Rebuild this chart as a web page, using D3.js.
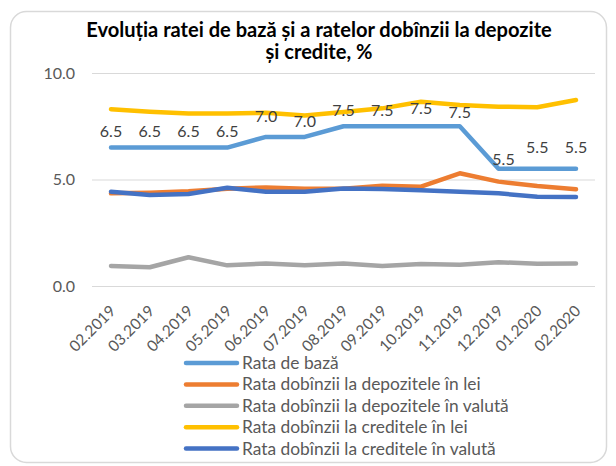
<!DOCTYPE html>
<html><head><meta charset="utf-8">
<script src="https://cdn.jsdelivr.net/npm/d3@7"></script>
<style>
html,body{margin:0;padding:0;background:#fff;}
svg{display:block;font-family:Lato,"Open Sans",sans-serif;}
</style></head>
<body><svg id="c" width="616" height="466"></svg>
<script>
const months = ["02.2019","03.2019","04.2019","05.2019","06.2019","07.2019","08.2019","09.2019","10.2019","11.2019","12.2019","01.2020","02.2020"];
const rataBaza = [6.5,6.5,6.5,6.5,7.0,7.0,7.5,7.5,7.5,7.5,5.5,5.5,5.5];
const depozLei = [4.35,4.38,4.45,4.57,4.63,4.57,4.57,4.71,4.66,5.29,4.9,4.69,4.54];
const depozValuta = [0.94,0.88,1.35,0.97,1.06,0.97,1.06,0.94,1.03,1.0,1.12,1.04,1.06];
const credLei = [8.3,8.18,8.1,8.1,8.13,8.01,8.17,8.34,8.65,8.5,8.42,8.39,8.73];
const credValuta = [4.43,4.27,4.32,4.61,4.43,4.43,4.58,4.55,4.5,4.43,4.35,4.19,4.18];
const yTicks = [0,5,10];
const seriesNames = ["Rata de bază","Rata dobînzii la depozitele în lei","Rata dobînzii la depozitele în valută","Rata dobînzii la creditele în lei","Rata dobînzii la creditele în valută"];
const titleLines = ["Evoluția ratei de bază și a ratelor dobînzii la depozite","și credite, %"];

const colors = ["#5B9BD5","#ED7D31","#A5A5A5","#FFC000","#4472C4"];
// label vertical nudges (styling only)
const labelDy = [-11,-11,-11,-11,-15,-10,-10,-10,-12,-8,-4,-16,-16];
const labelDx = [0,0,0,0,0,0,0,0,0,0,5,0,0];

const svg = d3.select("#c");
svg.append("rect").attr("x",10.5).attr("y",11.5).attr("width",596).attr("height",451)
  .attr("rx",16).attr("fill","#fff").attr("stroke","#d9d9d9").attr("stroke-width",1.5);

const x = d3.scalePoint().domain(months).range([111,576]);
const y = d3.scaleLinear().domain([0,10]).range([286,73]);

// fit a text element to a target width by adjusting font-size
function fitWidth(sel, target){
  const node = sel.node();
  const fs = parseFloat(sel.attr("font-size"));
  const w = node.getComputedTextLength();
  if (w > 0) sel.attr("font-size", (fs*target/w).toFixed(2));
  return fs*target/w;
}

// title
const tt = svg.append("g");
const t1 = tt.append("text").attr("x",319).attr("y",37).attr("text-anchor","middle")
    .attr("font-size",17).attr("font-weight","bold").attr("fill","#000").text(titleLines[0]);
const tfs = fitWidth(t1, 466);
tt.append("text").attr("x",319).attr("y",59).attr("text-anchor","middle")
    .attr("font-size",tfs.toFixed(2)).attr("font-weight","bold").attr("fill","#000").text(titleLines[1]);

// grid
const grid = svg.append("g");
grid.selectAll("line").data(yTicks).join("line")
  .attr("x1",92).attr("x2",595).attr("y1",d=>y(d)+0.5).attr("y2",d=>y(d)+0.5)
  .attr("stroke","#d9d9d9").attr("stroke-width",1);

// y axis
const yAxis = d3.axisLeft(y).tickValues(yTicks).tickFormat(d3.format(".1f")).tickSize(0).tickPadding(0);
const ya = svg.append("g").attr("transform","translate(75,0)").call(yAxis);
ya.select(".domain").remove();
ya.selectAll("text").attr("font-size",16).attr("fill","#595959").attr("font-family","Lato,'Open Sans',sans-serif");

// x axis
const xAxis = d3.axisBottom(x).tickSize(0).tickPadding(0);
const xa = svg.append("g").attr("transform","translate(0,300)").call(xAxis);
xa.select(".domain").remove();
xa.selectAll("text").attr("font-size",15.5).attr("fill","#595959")
  .attr("font-family","Lato,'Open Sans',sans-serif")
  .attr("text-anchor","end").attr("dy",0).attr("y",0)
  .attr("transform","translate(5,12) rotate(-45)");

// lines
const allSeries = [rataBaza,depozLei,depozValuta,credLei,credValuta];
const line = d3.line().x((d,i)=>x(months[i])).y(d=>y(d));
allSeries.forEach((s,k)=>{
  svg.append("path").datum(s).attr("d",line).attr("fill","none")
    .attr("stroke",colors[k]).attr("stroke-width",4.5)
    .attr("stroke-linejoin","round").attr("stroke-linecap","round");
});

// data labels for base rate
svg.append("g").selectAll("text").data(rataBaza).join("text")
  .attr("x",(d,i)=>x(months[i])+labelDx[i]).attr("y",(d,i)=>y(d)+labelDy[i])
  .attr("text-anchor","middle").attr("font-size",16).attr("fill","#404040")
  .text(d=>d3.format(".1f")(d));

// legend
const lg = svg.append("g");
const legTexts = [];
seriesNames.forEach((n,i)=>{
  const yy = 363 + i*21.4;
  lg.append("line").attr("x1",186).attr("x2",237).attr("y1",yy).attr("y2",yy)
    .attr("stroke",colors[i]).attr("stroke-width",4.5).attr("stroke-linecap","round");
  legTexts.push(lg.append("text").attr("x",242).attr("y",yy).attr("dy","0.35em")
    .attr("font-size",15).attr("fill","#595959").text(n));
});
const lfs = fitWidth(legTexts[2], 267);
legTexts.forEach(t=>t.attr("font-size",lfs.toFixed(2)));
</script></body></html>
